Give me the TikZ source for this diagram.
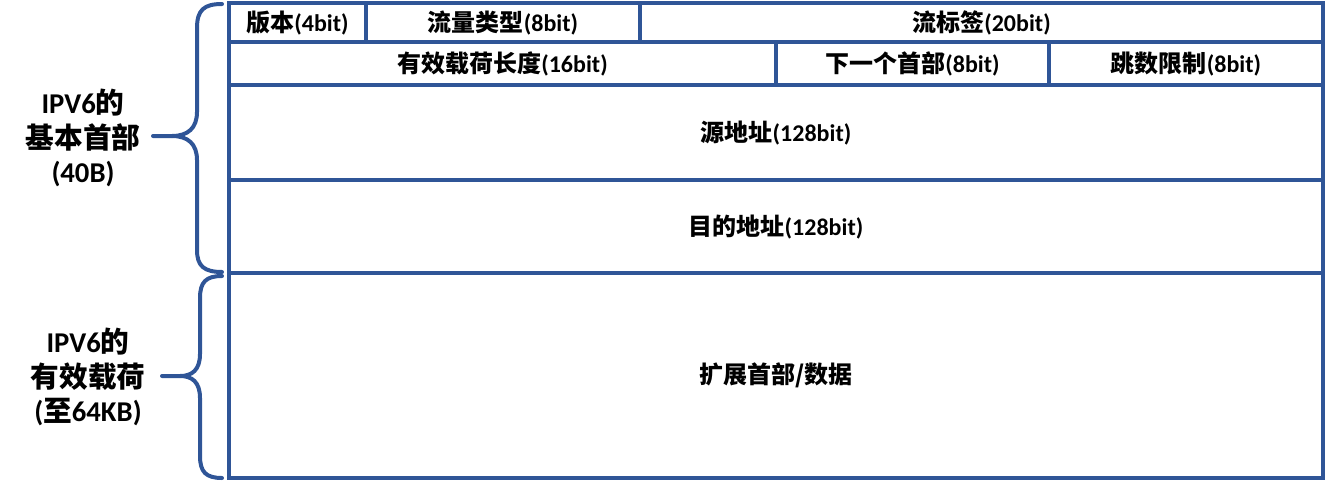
\documentclass[tikz,border=0pt]{standalone}
\usepackage{fontspec}
\setmainfont{Carlito}
\newfontfamily\cjk{Noto Sans CJK SC}
\usetikzlibrary{positioning}
\definecolor{ipblue}{RGB}{47,85,151}

\begin{document}
\begin{tikzpicture}[x=0.75pt, y=-0.75pt,
        fld/.style={rectangle, draw=ipblue, line width=3pt, inner sep=0pt, outer sep=0pt, align=center, font=\fontsize{18}{22}\selectfont\bfseries},
        side/.style={align=center, font=\fontsize{21.5}{26}\selectfont\bfseries},
        brace/.style={draw=ipblue, line width=3pt, line cap=round, line join=round}
    ]
        \useasboundingbox (0,0) rectangle (1327,482);

        % Erste Zeile: Version, Verkehrsklasse, Flussmarke
        \node [fld, anchor=north west, minimum width=102.75pt, minimum height=29.6pt] (ver) at (229,3) {{\cjk 版本}(4bit)};
        \node [fld, right=0pt of ver, minimum width=205.5pt, minimum height=29.6pt] (tc) {{\cjk 流量类型}(8bit)};
        \node [fld, right=0pt of tc, minimum width=512.25pt, minimum height=29.6pt] (fl) {{\cjk 流标签}(20bit)};

        % Zweite Zeile
        \node [fld, anchor=north west, minimum width=410.25pt, minimum height=32.25pt] (len) at (ver.south west) {{\cjk 有效载荷长度}(16bit)};
        \node [fld, right=0pt of len, minimum width=204.75pt, minimum height=32.25pt] (nh) {{\cjk 下一个首部}(8bit)};
        \node [fld, right=0pt of nh, minimum width=205.5pt, minimum height=32.25pt] (hop) {{\cjk 跳数限制}(8bit)};

        % Adressen und Nutzlast
        \node [fld, anchor=north west, minimum width=820.5pt, minimum height=70.9pt] (src) at (len.south west) {{\cjk 源地址}(128bit)};
        \node [fld, below=0pt of src, minimum width=820.5pt, minimum height=70.1pt] (dst) {{\cjk 目的地址}(128bit)};
        \node [fld, below=0pt of dst, minimum width=820.5pt, minimum height=153.4pt] (pay) {{\cjk 扩展首部/数据}};

        % Klammern links
        \draw [brace] (222,4) .. controls (204,4) and (197,10) .. (197,28) -- (197,112)
            .. controls (197,128) and (188,136) .. (172,136) -- (153,136);
        \draw [brace] (172,136) .. controls (188,136) and (197,144) .. (197,160) -- (197,250)
            .. controls (197,266) and (204,272) .. (222,272);
        \draw [brace] (222,276) .. controls (206,276) and (200,282) .. (200,298) -- (200,354)
            .. controls (200,370) and (192,376) .. (180,376) -- (162,376);
        \draw [brace] (180,376) .. controls (192,376) and (200,382) .. (200,398) -- (200,456)
            .. controls (200,472) and (206,478) .. (222,478);

        \node [side] (hdr) at (83,138) {IPV6{\cjk 的}\\{\cjk 基本首部}\\(40B)};
        \node [side] (pld) at (88,377) {IPV6{\cjk 的}\\{\cjk 有效载荷}\\({\cjk 至}64KB)};
    \end{tikzpicture}
\end{document}
